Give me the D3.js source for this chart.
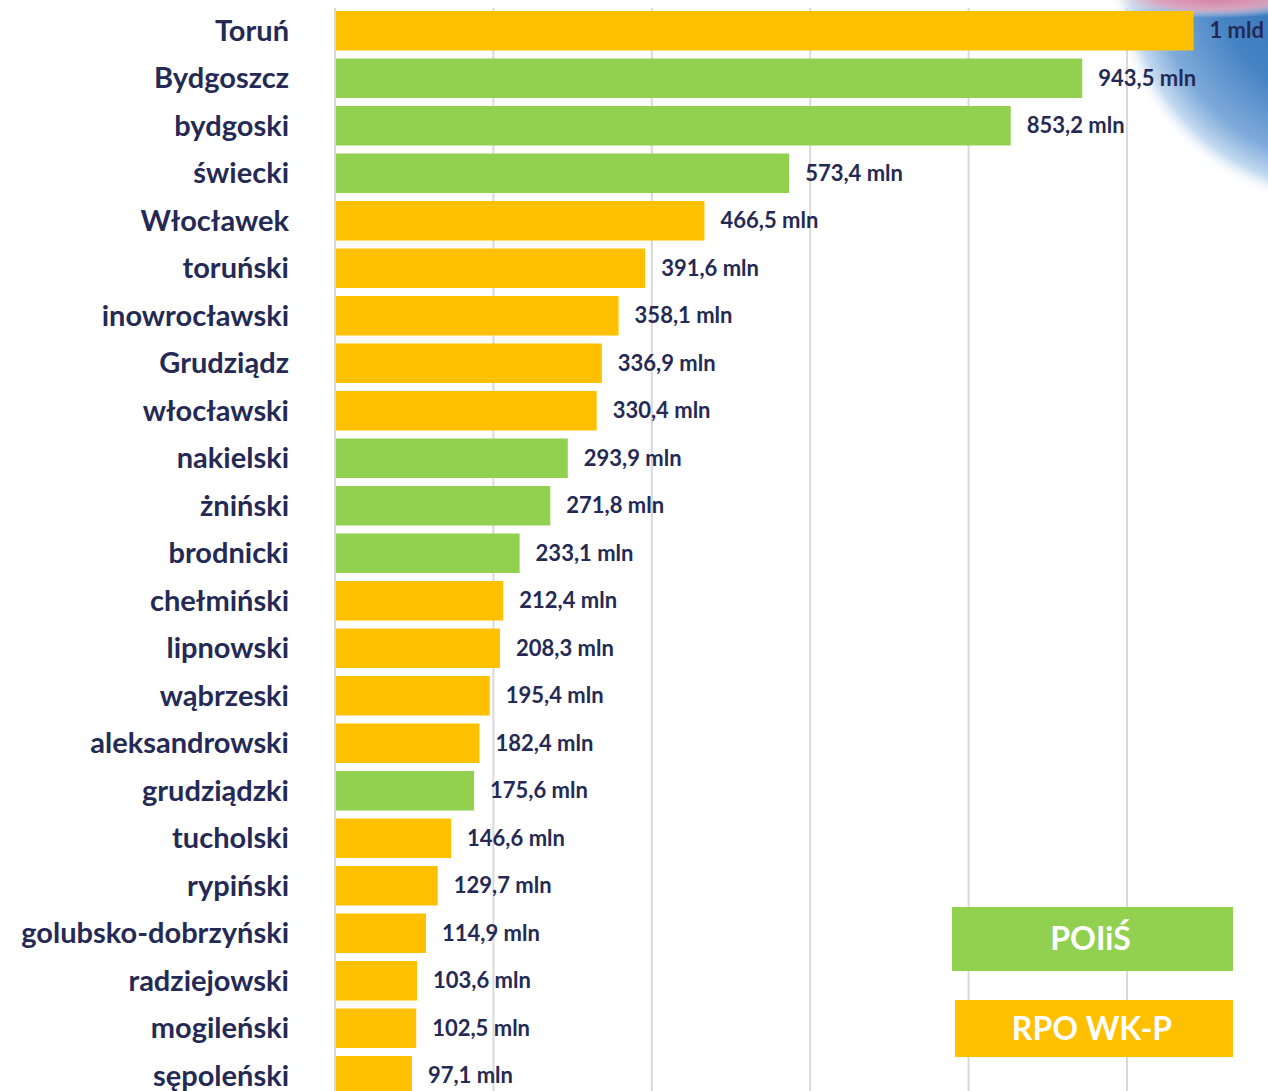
<!DOCTYPE html>
<html><head><meta charset="utf-8">
<script src="https://cdn.jsdelivr.net/npm/d3@7"></script>
<style>html,body{margin:0;padding:0;background:#fff;overflow:hidden}</style>
</head><body>
<script>
const categories = ["Toruń","Bydgoszcz","bydgoski","świecki","Włocławek","toruński","inowrocławski","Grudziądz","włocławski","nakielski","żniński","brodnicki","chełmiński","lipnowski","wąbrzeski","aleksandrowski","grudziądzki","tucholski","rypiński","golubsko-dobrzyński","radziejowski","mogileński","sępoleński"];
const values = [1084,943.5,853.2,573.4,466.5,391.6,358.1,336.9,330.4,293.9,271.8,233.1,212.4,208.3,195.4,182.4,175.6,146.6,129.7,114.9,103.6,102.5,97.1];
const valueLabels = ["1 mld","943,5 mln","853,2 mln","573,4 mln","466,5 mln","391,6 mln","358,1 mln","336,9 mln","330,4 mln","293,9 mln","271,8 mln","233,1 mln","212,4 mln","208,3 mln","195,4 mln","182,4 mln","175,6 mln","146,6 mln","129,7 mln","114,9 mln","103,6 mln","102,5 mln","97,1 mln"];
const programs = ["RPO","POIiŚ","POIiŚ","POIiŚ","RPO","RPO","RPO","RPO","RPO","POIiŚ","POIiŚ","POIiŚ","RPO","RPO","RPO","RPO","POIiŚ","RPO","RPO","RPO","RPO","RPO","RPO"];
const gridTicks = [0,200,400,600,800,1000];
const legendItems = ["POIiŚ","RPO WK-P"];

const W=1268,H=1091;
const colors = {"POIiŚ":"#92D050","RPO":"#FFC000"};
const textColor = "#252A55";
const font = "Lato, 'Open Sans', sans-serif";

const svg = d3.select("body").append("svg").attr("width",W).attr("height",H);
const defs = svg.append("defs");
const rg = defs.append("radialGradient").attr("id","blob").attr("gradientUnits","userSpaceOnUse")
  .attr("cx",1345).attr("cy",-25).attr("r",235);
rg.append("stop").attr("offset","0%").attr("stop-color","#2a68ad");
rg.append("stop").attr("offset","55%").attr("stop-color","#4683c4");
rg.append("stop").attr("offset","80%").attr("stop-color","#7eaada");
rg.append("stop").attr("offset","92%").attr("stop-color","#c4daf0");
rg.append("stop").attr("offset","100%").attr("stop-color","#ffffff").attr("stop-opacity","0");
const pg = defs.append("radialGradient").attr("id","pink").attr("cx","0.5").attr("cy","0.5").attr("r","0.5");
pg.append("stop").attr("offset","0%").attr("stop-color","#d77a9c");
pg.append("stop").attr("offset","60%").attr("stop-color","#e6a6bd").attr("stop-opacity","0.9");
pg.append("stop").attr("offset","100%").attr("stop-color","#ffffff").attr("stop-opacity","0");

// decorative blob
svg.append("circle").attr("cx",1345).attr("cy",-25).attr("r",235).attr("fill","url(#blob)");
svg.append("ellipse").attr("cx",1215).attr("cy",-4).attr("rx",110).attr("ry",22).attr("fill","url(#pink)");

const x = d3.scaleLinear().domain([0,1000]).range([335,1127]);
const y = d3.scaleBand().domain(categories).range([7,1099.5]).paddingInner(0.168).paddingOuter(0.084);

// gridlines
svg.append("g").selectAll("line").data(gridTicks).join("line")
  .attr("x1",d=>x(d)).attr("x2",d=>x(d)).attr("y1",8).attr("y2",H)
  .attr("stroke","#d9d9d9").attr("stroke-width",2);

// bars
svg.append("g").selectAll("rect").data(categories).join("rect")
  .attr("x",x(0)+1).attr("y",d=>y(d)).attr("width",(d,i)=>x(values[i])-x(0)-1).attr("height",y.bandwidth())
  .attr("fill",(d,i)=>colors[programs[i]]);

// category labels
svg.append("g").selectAll("text").data(categories).join("text")
  .attr("x",289).attr("y",d=>y(d)+y.bandwidth()/2).attr("dy","0.35em")
  .attr("text-anchor","end").attr("font-family",font).attr("font-weight","bold")
  .attr("font-size",29).attr("fill",textColor).text(d=>d);

// value labels
svg.append("g").selectAll("text").data(categories).join("text")
  .attr("x",(d,i)=>x(values[i])+16).attr("y",d=>y(d)+y.bandwidth()/2).attr("dy","0.35em")
  .attr("font-family",font).attr("font-weight","bold")
  .attr("font-size",22).attr("fill",textColor).text((d,i)=>valueLabels[i]);

// legend
const leg = [{x:952,y:907,w:281,h:64,c:colors["POIiŚ"],t:legendItems[0]},{x:955,y:1000,w:278,h:57,c:colors["RPO"],t:legendItems[1]}];
const lg = svg.append("g");
lg.selectAll("rect").data(leg).join("rect").attr("x",d=>d.x).attr("y",d=>d.y).attr("width",d=>d.w).attr("height",d=>d.h).attr("fill",d=>d.c);
lg.selectAll("text").data(leg).join("text").attr("x",d=>d.x+d.w/2-2).attr("y",d=>d.y+d.h/2).attr("dy","0.35em")
  .attr("text-anchor","middle").attr("font-family",font).attr("font-weight","bold")
  .attr("font-size",32).attr("fill","#fff").text(d=>d.t);
</script>
</body></html>
